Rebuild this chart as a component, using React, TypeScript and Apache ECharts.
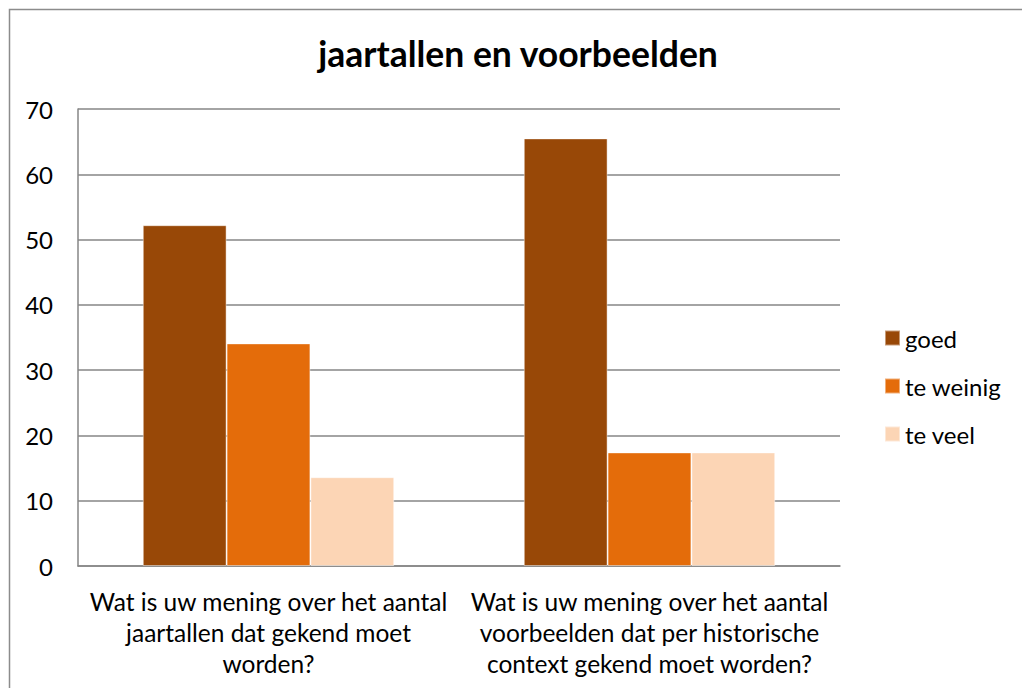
import React, { useEffect, useRef } from "react";
import * as echarts from "echarts";

const categories = [
  "Wat is uw mening over het aantal\njaartallen dat gekend moet\nworden?",
  "Wat is uw mening over het aantal\nvoorbeelden dat per historische\ncontext gekend moet worden?",
];
const seriesNames = ["goed", "te weinig", "te veel"];
const goed = [52.2, 65.5];
const teWeinig = [34.1, 17.4];
const teVeel = [13.6, 17.4];
const colors = ["#984807", "#E46C0A", "#FCD5B5"];
const yTicks = { min: 0, max: 70, interval: 10 };

const FONT = "Lato, 'Open Sans', sans-serif";

export default function App() {
  const ref = useRef<HTMLDivElement>(null);
  useEffect(() => {
    document.body.style.margin = "0";
    const chart = echarts.init(ref.current!, null, { renderer: "svg" });
    const data = [goed, teWeinig, teVeel];
    chart.setOption({
      animation: false,
      backgroundColor: "#ffffff",
      title: {
        text: "jaartallen en voorbeelden",
        left: 518,
        textAlign: "center",
        top: 35,
        padding: 0,
        textStyle: { fontFamily: FONT, fontSize: 35.5, fontWeight: "bold", color: "#000" },
      },
      graphic: [
        {
          type: "rect",
          shape: { x: 9.5, y: 9.5, width: 1100, height: 800 },
          style: { fill: "none", stroke: "#8c8c8c", lineWidth: 1.5 },
          silent: true,
        },
      ],
      legend: {
        orient: "vertical",
        left: 884,
        top: 326,
        padding: 0,
        itemWidth: 15,
        itemHeight: 15,
        itemGap: 24,
        icon: "rect",
        textStyle: { fontFamily: FONT, fontSize: 24, color: "#000" },
        data: seriesNames,
      },
      grid: { left: 78, right: 182, top: 109, bottom: 122, containLabel: false },
      xAxis: {
        type: "category",
        data: categories,
        axisLine: { show: true, lineStyle: { color: "#868686", width: 1.5 } },
        axisTick: { show: false },
        axisLabel: {
          fontFamily: FONT,
          fontSize: 24.5,
          color: "#000",
          lineHeight: 31,
          margin: 20,
          interval: 0,
          align: "center",
        },
      },
      yAxis: {
        type: "value",
        min: yTicks.min,
        max: yTicks.max,
        interval: yTicks.interval,
        axisLine: { show: true, lineStyle: { color: "#868686", width: 1.5 } },
        axisTick: { show: false },
        splitLine: { show: true, lineStyle: { color: "#868686", width: 1.5 } },
        axisLabel: { fontFamily: FONT, fontSize: 24, color: "#000", margin: 25 },
      },
      series: seriesNames.map((name, i) => ({
        name,
        type: "bar",
        data: data[i],
        barGap: "0%",
        barCategoryGap: "34%",
        itemStyle: {
          color: colors[i],
          borderColor: "rgba(255,255,255,0.45)",
          borderWidth: 1,
        },
      })),
    });
    return () => chart.dispose();
  }, []);
  return <div ref={ref} style={{ width: 1022, height: 688 }} />;
}
